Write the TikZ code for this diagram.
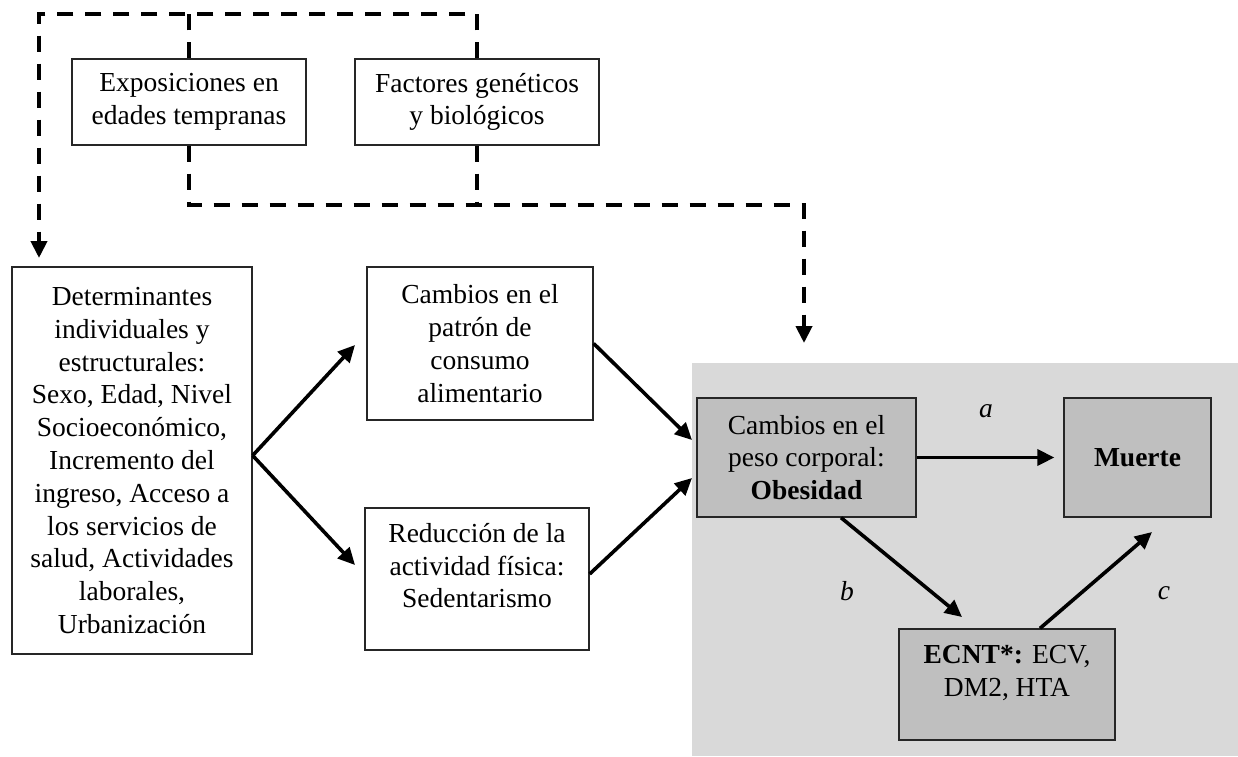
\documentclass[tikz,border=0pt]{standalone}
\usepackage{fontspec}
\setmainfont{Liberation Serif}
\usetikzlibrary{arrows.meta}
\definecolor{panelgray}{HTML}{D9D9D9}
\definecolor{boxgray}{HTML}{BFBFBF}
\tikzset{
 box/.style={draw=black!85, line width=1.3pt, inner sep=0pt, align=center, font=\fontsize{27.5}{32.8}\selectfont},
 txt/.style={inner sep=0pt, align=center, font=\fontsize{27.5}{32.5}\selectfont},
 grbox/.style={box, fill=boxgray},
 dashline/.style={line width=4pt, dash pattern=on 16pt off 12pt},
 dasharrow/.style={dashline, -{Triangle[length=17pt,width=16pt]}},
 solidarrow/.style={line width=3.6pt, -{Triangle[length=17pt,width=16pt]}},
 lab/.style={inner sep=0pt, font=\fontsize{27.5}{32}\selectfont\itshape},
}
\begin{document}
\begin{tikzpicture}[x=1pt,y=-1pt]
\useasboundingbox (0,0) rectangle (1238,756);
\node[fill=panelgray, minimum width=546pt, minimum height=393pt, inner sep=0pt, anchor=north west] (panel) at (692,363) {};

\node[box, minimum width=234pt, minimum height=86pt] (expo) at (189,102) {Exposiciones en\\edades tempranas};
\node[box, minimum width=244pt, minimum height=86pt] (fact) at (477,102) {Factores genéticos\\y biológicos};

\node[box, minimum width=240pt, minimum height=387pt] (det) at (132,460.5) {Determinantes\\individuales y\\estructurales:\\Sexo, Edad, Nivel\\Socioeconómico,\\Incremento del\\ingreso, Acceso a\\los servicios de\\salud, Actividades\\laborales,\\Urbanización};

\node[box, minimum width=226pt, minimum height=153pt] (pat) at (480,343.5) {Cambios en el\\patrón de\\consumo\\alimentario};

\node[box, minimum width=224pt, minimum height=142pt] (red) at (477,579) {};
\node[txt] (redt) at (477,566) {Reducción de la\\actividad física:\\Sedentarismo};

\node[grbox, minimum width=219pt, minimum height=119pt] (peso) at (806.5,457.5) {Cambios en el\\peso corporal:\\\textbf{Obesidad}};
\node[grbox, minimum width=147pt, minimum height=119pt] (muerte) at (1137.5,457.5) {\textbf{Muerte}};
\node[grbox, minimum width=216pt, minimum height=111pt] (ecnt) at (1007,684.5) {};
\node[txt] (ecntt) at (1007,673) {\textbf{ECNT*:} ECV,\\DM2, HTA};

\node[lab] (la) at (986,411) {a};
\node[lab] (lb) at (847,591) {b};
\node[lab] (lc) at (1164,593) {c};

% dashed connectors
\coordinate (tl) at (39,14);
\coordinate (dtip) at (39,258);
\draw[dasharrow] (fact.north) |- (tl) -- (dtip);
\draw[dashline] (expo.north) -- (expo.north |- tl);
\coordinate (br) at (804,205);
\coordinate (ptip) at (804,343);
\draw[dasharrow] (expo.south) |- (br) -- (ptip);
\draw[dashline] (fact.south) -- (fact.south |- br);

% solid arrows
\coordinate (u1) at (355,345);
\coordinate (l1) at (355,565);
\draw[solidarrow] ([yshift=5pt]det.east) -- (u1);
\draw[solidarrow] ([yshift=5pt]det.east) -- (l1);
\coordinate (p1) at (692,440);
\coordinate (p2) at (692,478);
\draw[solidarrow] (pat.east) -- (p1);
\draw[solidarrow] ([yshift=5pt]red.east) -- (p2);
\draw[solidarrow] (peso.east) -- ([xshift=-9pt]muerte.west);
\coordinate (e1) at (962,617);
\draw[solidarrow] ([xshift=34.5pt]peso.south) -- (e1);
\coordinate (m1) at (1152,532);
\draw[solidarrow] ([xshift=33pt]ecnt.north) -- (m1);
\end{tikzpicture}
\end{document}
